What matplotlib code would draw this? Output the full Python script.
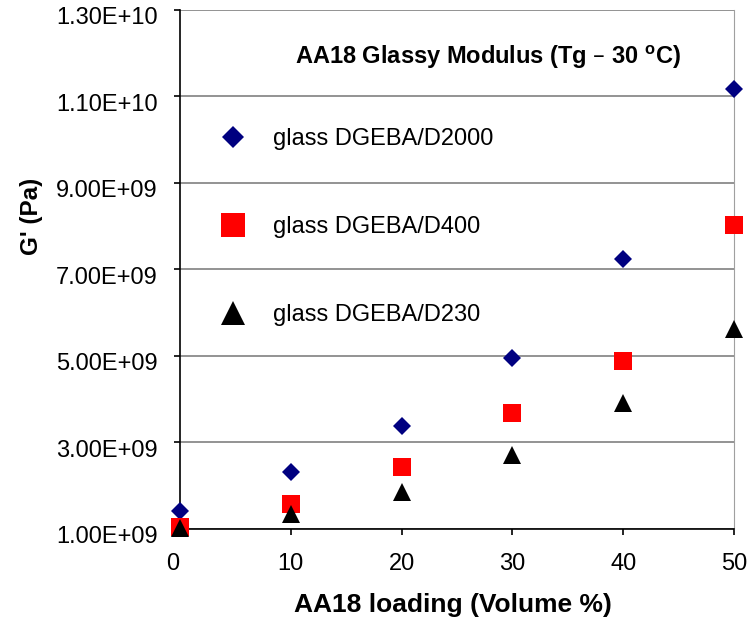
import matplotlib
matplotlib.use('Agg')
import matplotlib.pyplot as plt
from matplotlib.ticker import FuncFormatter
from matplotlib.transforms import ScaledTranslation

plt.rcParams['font.family'] = ['Liberation Sans', 'DejaVu Sans']

# AA18 loading (volume %)
loading = [0, 10, 20, 30, 40, 50]
# glassy storage modulus G' (Pa)
g_d2000 = [1.42e9, 2.32e9, 3.38e9, 4.96e9, 7.24e9, 11.17e9]
g_d400 = [1.05e9, 1.57e9, 2.44e9, 3.69e9, 4.88e9, 8.03e9]
g_d230 = [1.02e9, 1.35e9, 1.86e9, 2.70e9, 3.92e9, 5.62e9]
labels = ['glass DGEBA/D2000', 'glass DGEBA/D400', 'glass DGEBA/D230']
yticks = [1e9, 3e9, 5e9, 7e9, 9e9, 1.1e10, 1.3e10]
xticks = [0, 10, 20, 30, 40, 50]

fig = plt.figure(figsize=(7.5, 6.2), dpi=100)
ax = fig.add_axes([0.24, 0.1468, 0.7387, 0.8371])

ax.plot(loading, g_d2000, 'D', color='#000080', ms=8.7, mew=0, label=labels[0], clip_on=False, zorder=3)
ax.plot(loading, g_d400, 's', color='#ff0000', ms=13, mew=0, label=labels[1], clip_on=False, zorder=3)
ax.plot(loading, g_d230, '^', color='black', ms=13, mew=0, label=labels[2], clip_on=False, zorder=3)

ax.set_xlim(0, 50)
ax.set_ylim(1e9, 1.3e10)
ax.set_xticks(xticks)
ax.set_yticks(yticks)
ax.yaxis.set_major_formatter(FuncFormatter(lambda v, p: '{:.2E}'.format(v)))
ax.grid(axis='y', color='#808080', lw=1.2)
ax.set_axisbelow(True)

ax.spines['top'].set_visible(False)
ax.spines['right'].set_color('#a0a0a0')
ax.spines['left'].set_linewidth(1.2)
ax.spines['bottom'].set_linewidth(1.2)
ax.tick_params(axis='x', direction='out', length=4, width=1.2, pad=13, labelsize=17)
ax.tick_params(axis='y', direction='out', length=4, width=1.2, pad=12, labelsize=17)

# Excel-like label placement: y labels sit a little below their gridlines
down = ScaledTranslation(0, -6 / 100, fig.dpi_scale_trans)
for lab in ax.get_yticklabels():
    lab.set_transform(lab.get_transform() + down)
xlabs = ax.get_xticklabels()
xlabs[0].set_transform(xlabs[0].get_transform() + ScaledTranslation(-7 / 100, 0, fig.dpi_scale_trans))

ax.set_xlabel('AA18 loading (Volume %)', fontsize=19, fontweight='bold')
ax.set_ylabel("G' (Pa)", fontsize=17.5, fontweight='bold')
ax.xaxis.set_label_coords(0.493, -0.123)
ax.yaxis.set_label_coords(-0.2467, 0.603)

ax.text(0.556, 0.909, 'AA18 Glassy Modulus (Tg \u2013 30 $^{\\mathregular{o}}$C)',
        transform=ax.transAxes, ha='center', va='center', fontsize=17, fontweight='bold')

ax.legend(loc='upper left', bbox_to_anchor=(0.0614, 0.773), frameon=False,
          borderaxespad=0, borderpad=0, markerscale=1.32, labelspacing=2.8,
          handlelength=1.6, handletextpad=0.885, fontsize=17)

fig.savefig('out.png', dpi=100)
